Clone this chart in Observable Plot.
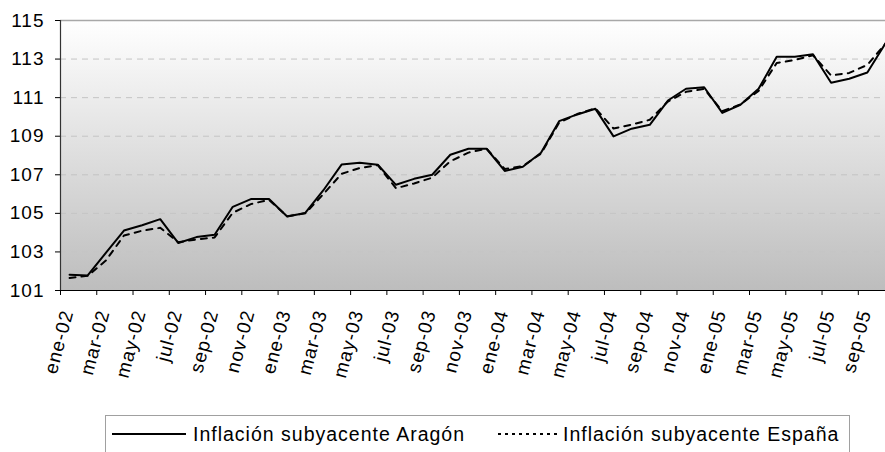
<!DOCTYPE html>
<html>
<head>
<meta charset="utf-8">
<script src="https://cdn.jsdelivr.net/npm/d3@7"></script>
<script src="https://cdn.jsdelivr.net/npm/@observablehq/plot@0.6"></script>
<style>
  body { margin: 0; background: white; }
  #chart svg { display: block; }
  #legend {
    position: relative; margin-left: 105px; margin-top: 10px;
    width: 745px; height: 38px; border: 1px solid #a0a0a0; box-sizing: border-box;
    background: white; font-family: "Liberation Sans", Arial, sans-serif; font-size: 19.5px;
    letter-spacing: 1px; color: black;
  }
  #legend .it { position: absolute; top: 0; height: 36px; display: flex; align-items: center; white-space: nowrap; }
</style>
</head>
<body>
<div id="chart"></div>
<div id="legend"></div>
<script>
// Month categories (ene-02 .. oct-05)
const months = [
  "ene-02","feb-02","mar-02","abr-02","may-02","jun-02","jul-02","ago-02","sep-02","oct-02","nov-02","dic-02",
  "ene-03","feb-03","mar-03","abr-03","may-03","jun-03","jul-03","ago-03","sep-03","oct-03","nov-03","dic-03",
  "ene-04","feb-04","mar-04","abr-04","may-04","jun-04","jul-04","ago-04","sep-04","oct-04","nov-04","dic-04",
  "ene-05","feb-05","mar-05","abr-05","may-05","jun-05","jul-05","ago-05","sep-05","oct-05"
];
// Inflación subyacente Aragón
const aragon = [
  101.82, 101.78, 102.95, 104.11, 104.38, 104.70, 103.46, 103.77, 103.89, 105.34, 105.74, 105.74,
  104.84, 105.02, 106.20, 107.53, 107.62, 107.52, 106.48, 106.79, 107.00, 108.04, 108.35, 108.35,
  107.20, 107.42, 108.14, 109.78, 110.13, 110.42, 108.99, 109.39, 109.59, 110.85, 111.46, 111.54,
  110.21, 110.63, 111.46, 113.12, 113.12, 113.25, 111.77, 111.98, 112.30, 113.82
];
// Inflación subyacente España
const espana = [
  101.65, 101.76, 102.55, 103.85, 104.10, 104.25, 103.50, 103.65, 103.75, 105.03, 105.48, 105.70,
  104.85, 105.00, 106.00, 107.05, 107.35, 107.50, 106.30, 106.55, 106.85, 107.70, 108.15, 108.35,
  107.30, 107.45, 108.10, 109.70, 110.15, 110.45, 109.40, 109.60, 109.85, 110.80, 111.30, 111.45,
  110.30, 110.65, 111.35, 112.80, 112.95, 113.20, 112.15, 112.28, 112.70, 113.80
];
// Axis ticks
const yTicks = [101, 103, 105, 107, 109, 111, 113, 115];
const gridValues = [103, 105, 107, 109, 111, 113];
const tickLabels = ["ene-02","mar-02","may-02","jul-02","sep-02","nov-02","ene-03","mar-03","may-03","jul-03","sep-03","nov-03",
  "ene-04","mar-04","may-04","jul-04","sep-04","nov-04","ene-05","mar-05","may-05","jul-05","sep-05"];

const seriesNames = ["Inflación subyacente Aragón", "Inflación subyacente España"];

const rowsA = aragon.map((v, i) => ({i, v}));
const rowsE = espana.map((v, i) => ({i, v}));
const labelRows = tickLabels.map(t => ({i: months.indexOf(t), t}));
const boundaries = labelRows.map(d => d.i - 0.5);

const defs = () => {
  const g = d3.create("svg:defs");
  const lg = g.append("linearGradient").attr("id", "bg").attr("x1", 0).attr("y1", 0).attr("x2", 0).attr("y2", 1);
  lg.append("stop").attr("offset", "0%").attr("stop-color", "#ffffff");
  lg.append("stop").attr("offset", "100%").attr("stop-color", "#bdbdbd");
  return g.node();
};

const chart = Plot.plot({
  width: 885,
  height: 405,
  marginLeft: 60,
  marginRight: 0,
  marginTop: 20,
  marginBottom: 115,
  style: {fontFamily: "'Liberation Sans', Arial, sans-serif", fontSize: "19px", color: "black", letterSpacing: "1px"},
  x: {domain: [-0.5, 45], axis: null},
  y: {domain: [101, 115], axis: null},
  marks: [
    defs,
    Plot.frame({fill: "url(#bg)", stroke: null}),
    Plot.ruleY(gridValues, {stroke: "#c4c4c4", strokeWidth: 1, strokeDasharray: "6,5"}),
    Plot.ruleY([115], {stroke: "#a8a8a8", strokeWidth: 1.5}),
    Plot.ruleY([101], {stroke: "black", strokeWidth: 1.2}),
    Plot.ruleX([-0.5], {stroke: "#333", strokeWidth: 1.2}),
    Plot.axisY(yTicks, {anchor: "left", tickSize: 5, tickPadding: 11, fontSize: 19, label: null}),
    Plot.axisX(boundaries, {anchor: "bottom", tickSize: 5, tickFormat: () => "", label: null}),
    Plot.text(labelRows, {x: "i", text: "t", frameAnchor: "bottom", dy: 20, dx: -2, rotate: -75,
      textAnchor: "end", lineAnchor: "middle", fontSize: 19, fill: "black"}),
    Plot.line(rowsA, {x: "i", y: "v", stroke: "black", strokeWidth: 2}),
    Plot.line(rowsE, {x: "i", y: "v", stroke: "black", strokeWidth: 2, strokeDasharray: "6,6"})
  ]
});
document.getElementById("chart").appendChild(chart);

// Legend
const legend = document.getElementById("legend");
legend.innerHTML = `
  <div class="it" style="left:6px"><svg width="74" height="10"><line x1="0" y1="5" x2="74" y2="5" stroke="black" stroke-width="2"/></svg></div>
  <div class="it" style="left:87px">${seriesNames[0]}</div>
  <div class="it" style="left:392px"><svg width="60" height="10"><line x1="0" y1="5" x2="60" y2="5" stroke="black" stroke-width="2" stroke-dasharray="3,4"/></svg></div>
  <div class="it" style="left:457px">${seriesNames[1]}</div>`;
</script>
</body>
</html>
